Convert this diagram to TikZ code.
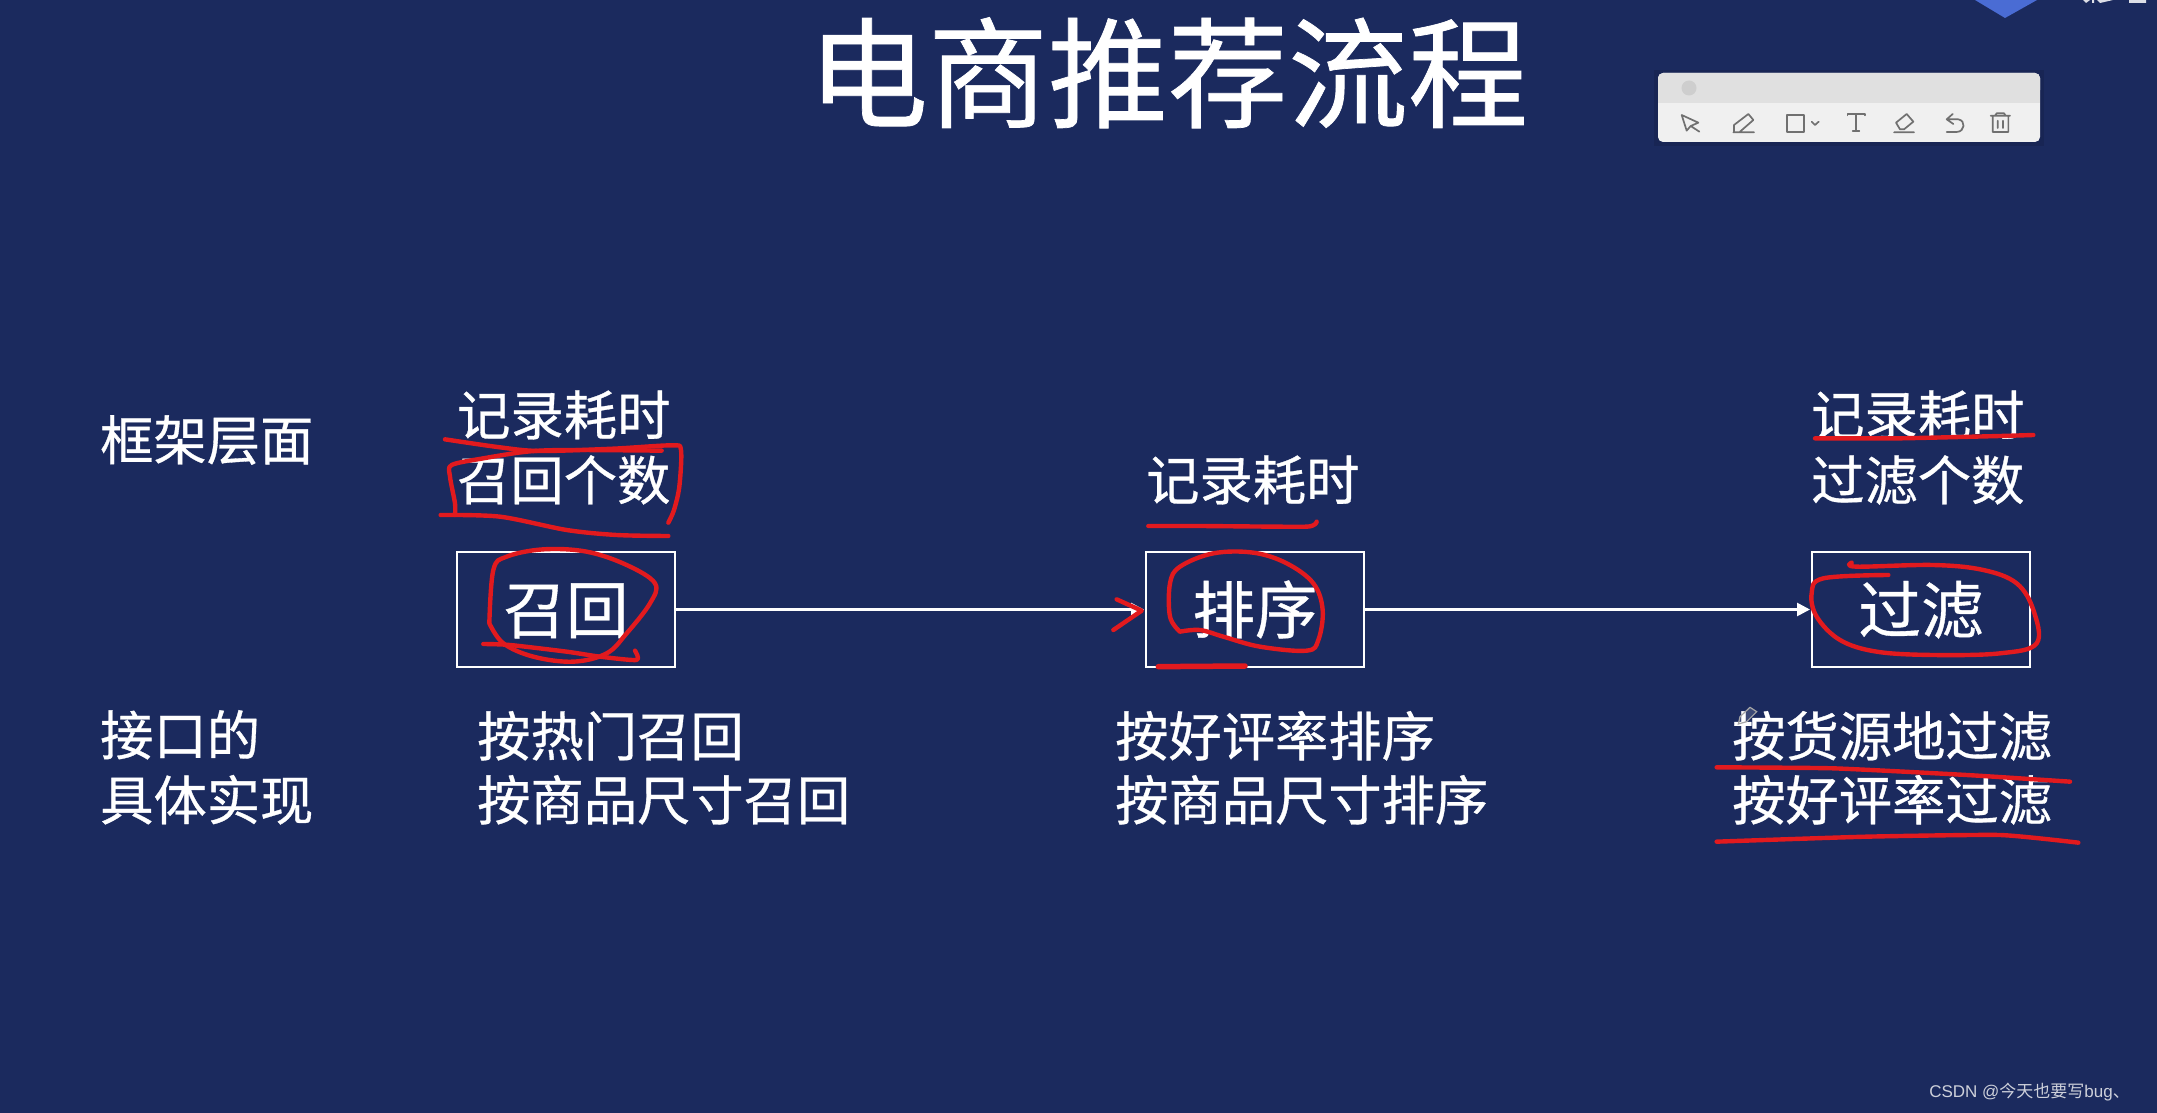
\documentclass[tikz,border=0pt]{standalone}
\usepackage{fontspec}
\setmainfont[FakeBold=0.6]{Noto Sans CJK SC}
\newfontfamily\wmcjk{Noto Sans CJK SC}
\newfontfamily\latinwm{Liberation Sans}
\usetikzlibrary{arrows.meta}
\definecolor{bgblue}{RGB}{27,42,94}
\definecolor{inkred}{RGB}{226,26,30}
\definecolor{tbhead}{RGB}{224,224,224}
\definecolor{tbbody}{RGB}{240,240,240}
\definecolor{tbicon}{RGB}{112,112,112}
\definecolor{diamondblue}{RGB}{74,108,212}
\definecolor{wmgray}{RGB}{205,208,218}
\tikzset{
  x=1pt,y=-1pt,
  lbl/.style={text=white,inner sep=0pt,font=\fontsize{53.3}{53}\selectfont,anchor=west,text height=46.6pt,text depth=6.4pt},
  ttl/.style={text=white,inner sep=0pt,font=\fontsize{120}{120}\selectfont,text height=105.6pt,text depth=14.4pt},
  stepbox/.style={draw=white,line width=2pt,inner sep=0pt,text=white,font=\fontsize{62.5}{62}\selectfont,minimum width=218pt,minimum height=115pt,text height=55pt,text depth=7.5pt},
  flow/.style={draw=white,line width=2.6pt,-{Triangle[length=13pt,width=13pt]},shorten >=1pt},
  redpen/.style={draw=inkred,line width=4.4pt,line cap=round,line join=round},
  zoomA/.style={shift={(400pt,-370pt)},x=0.33333pt,y=-0.33333pt},
  zoomB/.style={shift={(1100pt,-440pt)},x=0.33333pt,y=-0.33333pt},
  zoomC/.style={shift={(1700pt,-370pt)},x=0.33333pt,y=-0.33333pt},
  zoomT/.style={shift={(1640pt,0pt)},x=0.33333pt,y=-0.33333pt},
  tbi/.style={draw=tbicon,line width=1.7pt,line join=round,line cap=round},
}
\begin{document}
\begin{tikzpicture}
\useasboundingbox (0,0) rectangle (2157,1113);
\fill[bgblue] (0,0) rectangle (2157,1113);

% top-right fragments
\fill[diamondblue] (1975,0) -- (2005,18) -- (2037,0) -- cycle;
\fill[white,opacity=.85] (2083,0) -- (2086,3) -- (2090,0) -- cycle (2092,0) rectangle (2094,3) (2097,0) -- (2100,3) -- (2113,0) -- cycle (2129,0) rectangle (2146,3);

% title
\node[ttl] (title) at (1168,73) {电商推荐流程};

% toolbar
\fill[black,opacity=.10] (1654,70) rectangle (2044,146);
\fill[tbbody,rounded corners=5pt] (1658,73) rectangle (2040,142);
\fill[tbhead,rounded corners=5pt] (1658,73) rectangle (2040,95);
\fill[tbhead] (1658,88) rectangle (2040,103);
\fill[black!8!tbhead] (1689,88) circle (7.5);
\begin{scope}[zoomT]
\draw[tbi] (125,345) -- (175,368) -- (152,378) -- (140,392) -- cycle (152,378) -- (178,395);
\draw[tbi] (282,395) -- (282,375) -- (325,342) -- (340,360) -- (300,395) (280,397) -- (342,397);
\draw[tbi] (441,345) rectangle (492,395);
\draw[tbi] (515,365) -- (525,375) -- (536,365);
\draw[tbi] (622,346) -- (622,342) -- (675,342) -- (675,346) (648,342) -- (648,393) (638,394) -- (658,394);
\draw[tbi] (768,368) -- (800,342) -- (820,365) -- (792,388) -- (780,388) -- cycle (762,397) -- (822,397);
\draw[tbi] (938,342) -- (920,358) -- (940,372) (922,358) -- (955,358) .. controls (978,362) and (975,395) .. (950,396) -- (920,396);
\draw[tbi] (1052,347) -- (1110,347) (1065,347) -- (1070,340) -- (1092,340) -- (1097,347) (1058,347) -- (1058,396) -- (1105,396) -- (1105,347) (1073,362) -- (1073,384) (1089,362) -- (1089,384);
\end{scope}

% left labels
\node[lbl] (frame)  at (100,440) {框架层面};
\node[lbl] (iface1) at (100,735) {接口的};
\node[lbl] (iface2) at (100,800) {具体实现};

% upper labels
\node[lbl] (t1a) at (457,415) {记录耗时};
\node[lbl] (t1b) at (457,480) {召回个数};
\node[lbl] (t2a) at (1146,480) {记录耗时};
\node[lbl] (t3a) at (1811,415) {记录耗时};
\node[lbl] (t3b) at (1811,480) {过滤个数};

% boxes
\node[stepbox] (recall) at (566,609.5) {召回};
\node[stepbox] (rank)   at (1255,609.5) {排序};
\node[stepbox] (filter) at (1921,609.5) {过滤};
\draw[flow] (recall) -- (rank);
\draw[flow] (rank) -- (filter);

% lower labels
\node[lbl] (b1a) at (477,736) {按热门召回};
\node[lbl] (b1b) at (477,800) {按商品尺寸召回};
\node[lbl] (b2a) at (1115,736) {按好评率排序};
\node[lbl] (b2b) at (1115,800) {按商品尺寸排序};
\node[lbl] (b3a) at (1732,736) {按货源地过滤};
\node[lbl] (b3b) at (1732,800) {按好评率过滤};

% red annotations: recall column
\begin{scope}[zoomA]
\draw[redpen] plot[smooth,tension=.5] coordinates {(135,208)(300,232)(420,243)(640,236)(815,226)(843,240)(838,350)(822,420)(805,458)};
\draw[redpen] plot[smooth,tension=.5] coordinates {(785,242)(500,240)(380,245)(250,265)(155,285)(150,320)(165,400)(165,435)};
\draw[redpen] plot[smooth,tension=.5] coordinates {(122,435)(300,440)(500,480)(650,495)(805,498)};
\draw[redpen] plot[smooth,tension=.6] coordinates {(268,760)(280,600)(320,560)(430,538)(560,545)(680,585)(765,640)(750,700)(680,790)(620,850)(520,875)(400,860)(310,820)(268,760)};
\draw[redpen] plot[smooth,tension=.4] coordinates {(250,822)(330,825)(500,845)(600,860)(710,870)(705,842)};
\end{scope}

% red annotations: rank column
\begin{scope}[zoomB]
\draw[redpen] plot[smooth,tension=.3] coordinates {(145,258)(300,258)(620,260)(650,245)};
\draw[redpen] (50,478) -- (125,512) -- (40,570);
\draw[redpen] plot[smooth,tension=.6] coordinates {(240,575)(300,570)(370,590)(480,620)(620,632)(655,600)(668,510)(640,430)(560,370)(460,338)(340,340)(240,380)(210,430)(210,530)(240,575)};
\draw[redpen,line width=5.5pt] (175,680) -- (435,678);
\end{scope}

% red annotations: filter column
\begin{scope}[zoomC]
\draw[redpen] plot[smooth,tension=.3] coordinates {(345,205)(600,205)(900,198)(1000,195)};
\draw[redpen] plot[smooth,tension=.6] coordinates {(455,578)(470,590)(700,585)(850,600)(950,640)(1000,720)(1010,820)(900,850)(700,855)(530,845)(420,810)(350,740)(335,670)(370,625)(565,615)};
\draw[redpen] plot[smooth,tension=.3] coordinates {(50,1192)(400,1195)(800,1215)(1110,1235)};
\draw[redpen] plot[smooth,tension=.3] coordinates {(50,1415)(500,1400)(900,1395)(1135,1418)};
% pen cursor
\draw[draw=gray!70,line width=1.2pt,fill=white,fill opacity=.15] (115,1062) -- (120,1040) -- (150,1012) -- (170,1025) -- (140,1055) -- cycle;
\end{scope}

% watermark
\node[text=wmgray,inner sep=0pt,anchor=east,font=\fontsize{17}{17}\selectfont\wmcjk] (mark) at (2130,1092) {{\latinwm CSDN @}今天也要写{\latinwm bug}、};
\end{tikzpicture}
\end{document}
